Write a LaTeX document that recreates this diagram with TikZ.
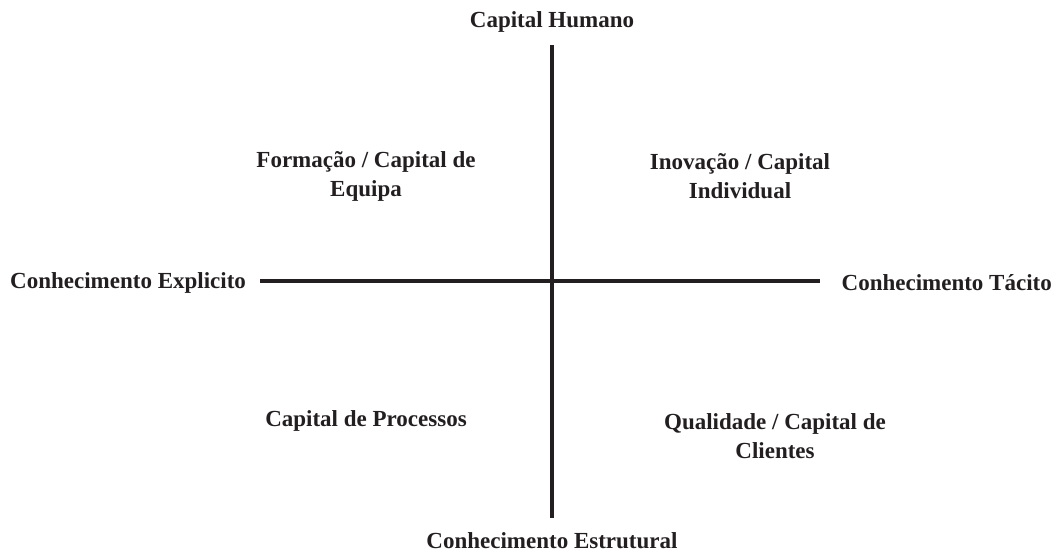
\documentclass[tikz,border=0pt]{standalone}
\usepackage{fontspec}
\setmainfont{Liberation Serif}
\definecolor{ink}{HTML}{231F20}
\begin{document}
\begin{tikzpicture}[x=1pt,y=-1pt,
  lbl/.style={font=\fontsize{23}{29}\selectfont\bfseries, text=ink, inner sep=0pt, align=center},
  axis/.style={draw=ink, line width=4.5pt}]
\useasboundingbox (0,0) rectangle (1057,555);
\node[lbl] (top) at (552,22) {Capital Humano};
\node[lbl] (bot) at (552,541) {Conhecimento Estrutural};
\node[lbl, anchor=west] (left) at (10,283) {Conhecimento Explicito};
\node[lbl, anchor=east] (right) at (1052,283) {Conhecimento Tácito};
\node[lbl] (q1) at (366,176) {Formação / Capital de\\Equipa};
\node[lbl] (q2) at (740,176) {Inovação / Capital\\Individual};
\node[lbl] (q3) at (366,421) {Capital de Processos};
\node[lbl] (q4) at (775,436) {Qualidade / Capital de\\Clientes};
\coordinate (vt) at (552,45);
\coordinate (vb) at (552,518);
\coordinate (hl) at (260,281);
\coordinate (hr) at (820,281);
\draw[axis] (vt) -- (vb);
\draw[axis] (hl) -- (hr);
\end{tikzpicture}
\end{document}
